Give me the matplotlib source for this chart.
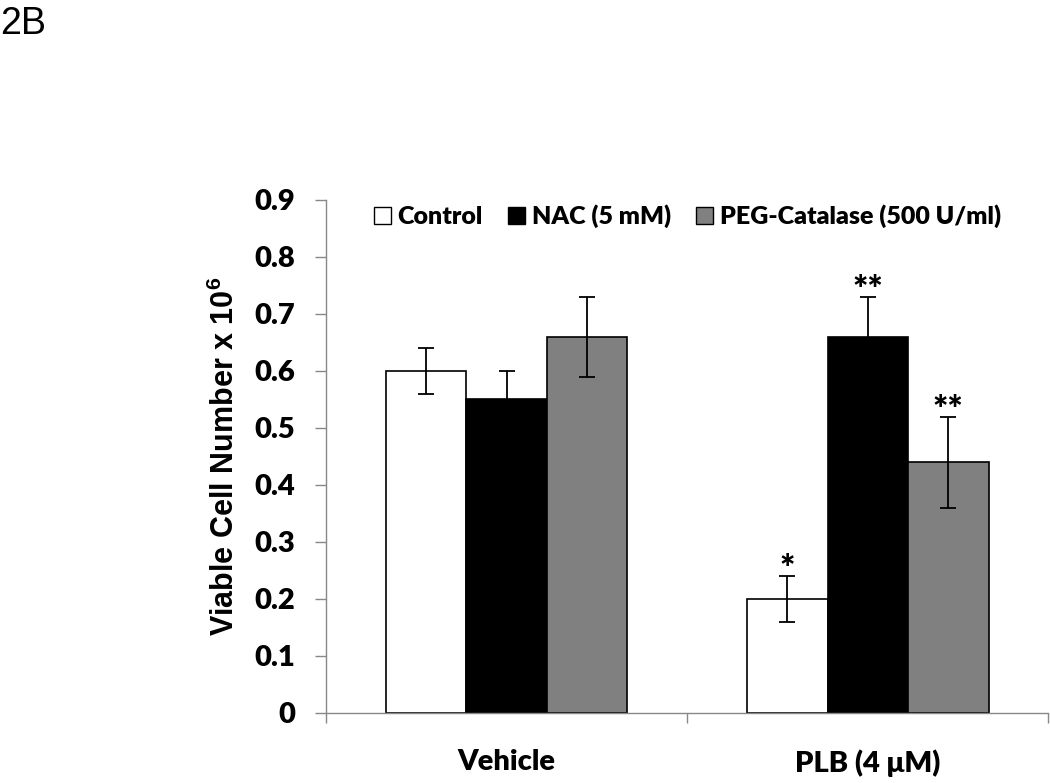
import matplotlib
matplotlib.use("Agg")
import matplotlib.pyplot as plt
import numpy as np
from matplotlib.patches import Patch

categories = ["Vehicle", "PLB (4 \u03bcM)"]
series = ["Control", "NAC (5 mM)", "PEG-Catalase (500 U/ml)"]
control = [0.60, 0.20]
control_err = [0.04, 0.04]
nac = [0.55, 0.66]
nac_err = [0.05, 0.07]
peg = [0.66, 0.44]
peg_err = [0.07, 0.08]
stars_control = ["", "*"]
stars_nac = ["", "**"]
stars_peg = ["", "**"]
yticks = [0, 0.1, 0.2, 0.3, 0.4, 0.5, 0.6, 0.7, 0.8, 0.9]
ytick_labels = ["0", "0.1", "0.2", "0.3", "0.4", "0.5", "0.6", "0.7", "0.8", "0.9"]

FONT = ["Lato", "DejaVu Sans"]
WEIGHT = "heavy"
plt.rcParams['font.family'] = FONT
plt.rcParams['mathtext.fontset'] = 'custom'
for k in ['rm', 'it', 'bf', 'sf']:
    plt.rcParams['mathtext.' + k] = 'Liberation Sans:bold'

fig = plt.figure(figsize=(10.5, 7.83), dpi=100)
ax = fig.add_axes([0.3105, 0.0894, 0.688, 0.6552])

x = np.arange(len(categories))
w = 0.223
colors = ["white", "black", "#808080"]
vals = [control, nac, peg]
errs = [control_err, nac_err, peg_err]
stars = [stars_control, stars_nac, stars_peg]
for i, (v, e, c, s) in enumerate(zip(vals, errs, colors, stars)):
    pos = x + (i - 1) * w
    ax.bar(pos, v, width=w, color=c, edgecolor="black", linewidth=1.2, zorder=2)
    ax.errorbar(pos, v, yerr=e, fmt="none", ecolor="black", elinewidth=1.3,
                capsize=5.5, capthick=1.3, zorder=3)
    for p, vv, ee, ss in zip(pos, v, e, s):
        if ss:
            ax.text(p, vv + ee - 0.018, ss, ha="center", va="bottom",
                    fontsize=26, fontweight=WEIGHT, family=FONT)

ax.set_xlim(-0.5, 1.5)
ax.set_ylim(0, 0.9)
ax.set_yticks(yticks)
ax.set_yticklabels(ytick_labels, fontsize=21, fontweight=WEIGHT)
ax.set_xticks([-0.5, 0.5, 1.5])
ax.set_xticklabels([])
ax.set_xticks(x, minor=True)
ax.set_xticklabels(categories, minor=True, fontsize=21, fontweight=WEIGHT)
ax.tick_params(axis="x", which="minor", length=0, pad=26)
ax.tick_params(axis="x", which="major", length=7.5, width=1, color="#888888", direction="out")
ax.tick_params(axis="y", length=8, width=1, color="#888888", direction="out", pad=14)
for sp in ["top", "right"]:
    ax.spines[sp].set_visible(False)
for sp in ["left", "bottom"]:
    ax.spines[sp].set_color("#888888")
    ax.spines[sp].set_linewidth(1.0)

ax.set_ylabel("Viable Cell Number x 10$^{6}$", fontsize=22, fontweight="bold",
              family=["Liberation Sans", "DejaVu Sans"], labelpad=10)

handles = [Patch(facecolor=c, edgecolor="black", linewidth=1.0) for c in colors]
ax.legend(handles, series, loc="upper center", bbox_to_anchor=(0.5, 1.035), ncol=3,
          frameon=False, handlelength=0.7, handleheight=0.7, handletextpad=0.25,
          columnspacing=1.0, prop={"family": FONT, "weight": WEIGHT, "size": 18})

fig.text(0.0, 0.992, "2B", ha="left", va="top", fontsize=27,
         family=["Liberation Sans", "DejaVu Sans"])

fig.savefig("out.png", dpi=100)
